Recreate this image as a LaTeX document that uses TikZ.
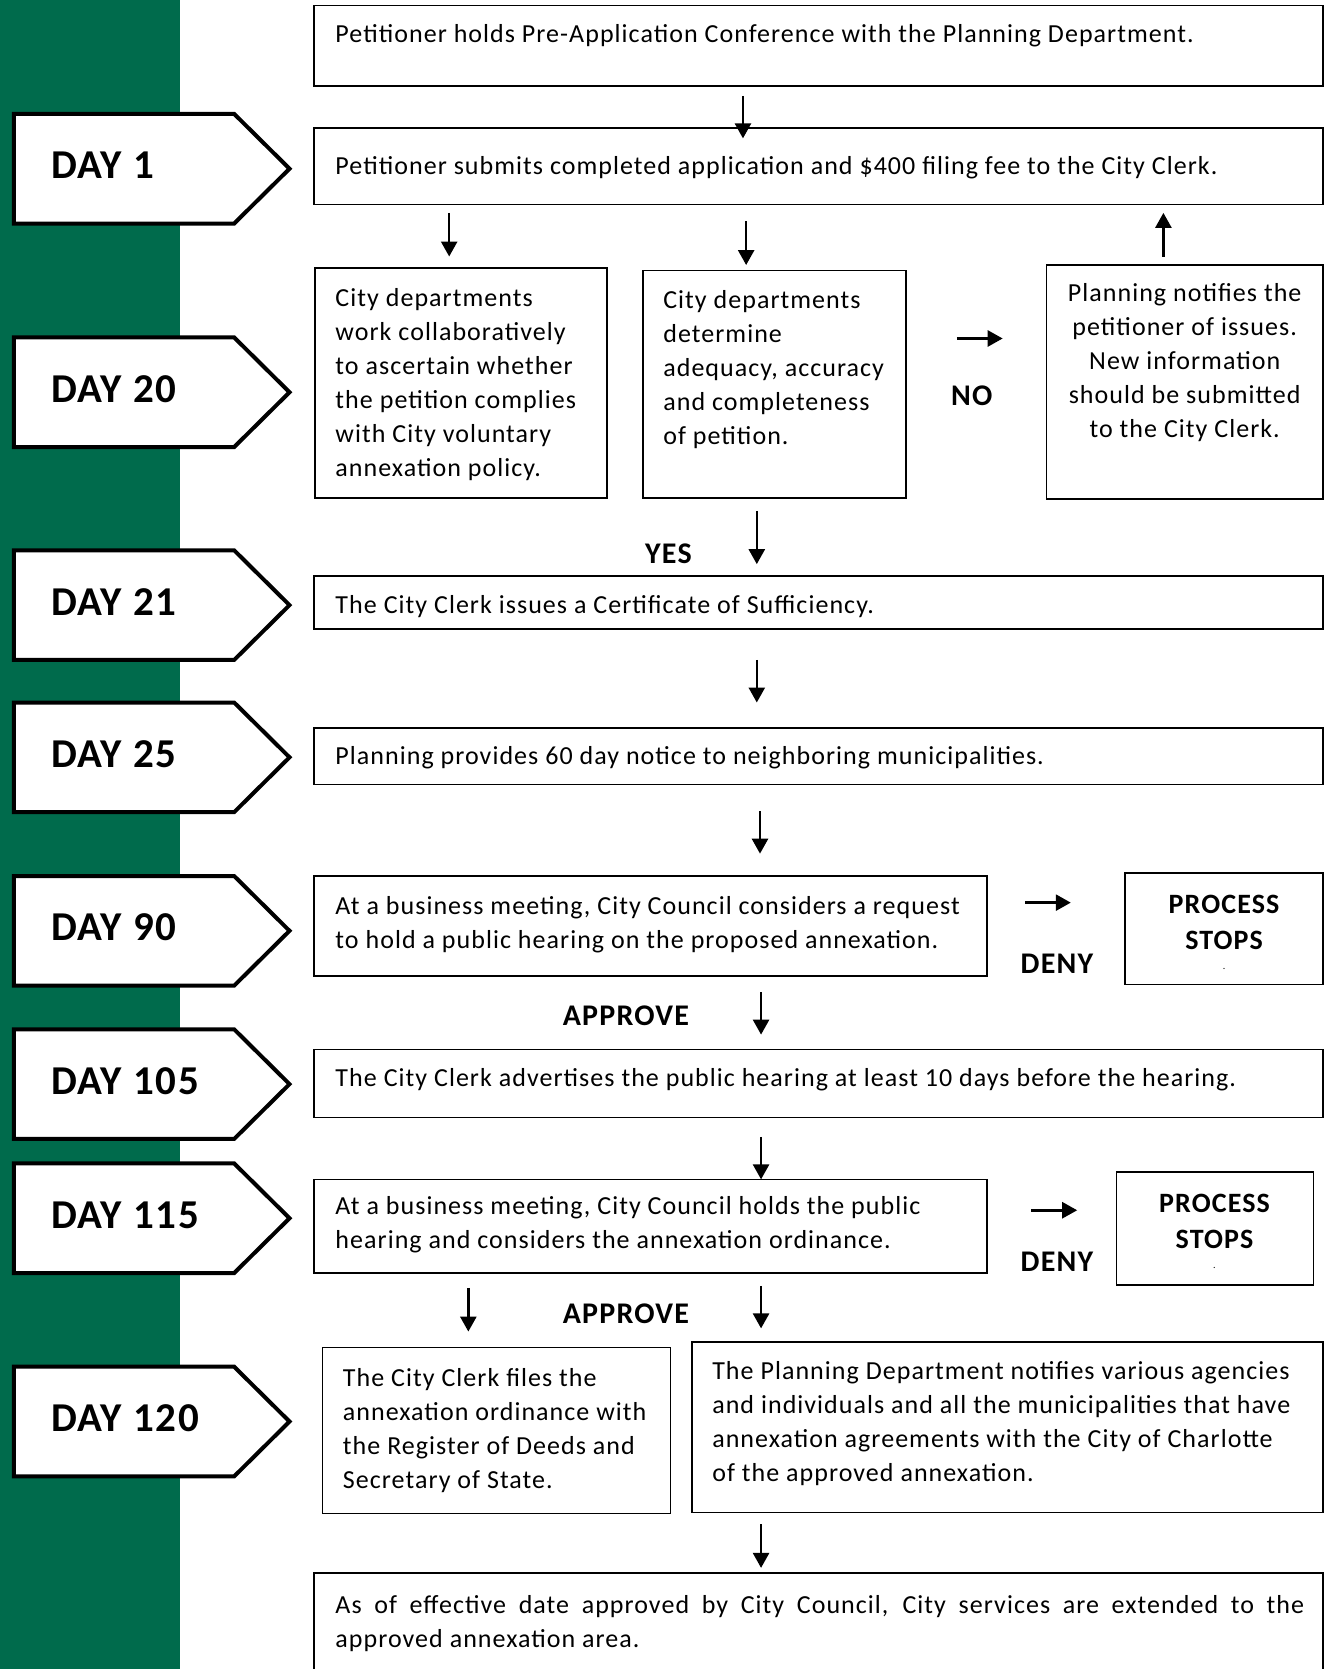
\documentclass[tikz,border=0pt]{standalone}
\usepackage{fontspec}
\setmainfont[LetterSpace=4]{Carlito}
\usetikzlibrary{arrows.meta,fit}
\definecolor{cltgreen}{RGB}{0,107,76}
\newcommand{\daytag}[3]{%
  \draw[daybox] (13,#2) -- (220,#2) -- (272,#2+51.5) -- (220,#2+103) -- (13,#2+103) -- cycle;
  \node[daytxt] (#1) at (48,#2+48.5) {#3};}
\begin{document}
\begin{tikzpicture}[x=1.0642pt,y=-1.0642pt,
  box/.style={draw, line width=1.6pt, inner sep=0pt},
  daybox/.style={draw, fill=white, line width=4pt, line join=miter},
  daytxt/.style={anchor=west, inner sep=0pt, font=\fontsize{41}{48}\selectfont\bfseries},
  txt/.style={inner sep=0pt, anchor=north west, align=left, font=\fontsize{26}{34}\selectfont},
  ctxt/.style={inner sep=0pt, anchor=north, align=center, font=\fontsize{26}{34}\selectfont},
  lbl/.style={inner sep=0pt, font=\fontsize{30}{34}\selectfont\bfseries},
  stoptxt/.style={inner sep=0pt, align=center, font=\fontsize{28}{36}\selectfont\bfseries},
  arr/.style={line width=2.6pt, -{Triangle[length=15pt,width=16pt]}}]
\useasboundingbox (0,0) rectangle (1246,1568);
\fill[cltgreen] (0,0) rectangle (169,1568);

% day tags
\daytag{d1}{107}{DAY 1}
\daytag{d20}{317}{DAY 20}
\daytag{d21}{517}{DAY 21}
\daytag{d25}{660}{DAY 25}
\daytag{d90}{823}{DAY 90}
\daytag{d105}{967}{DAY 105}
\daytag{d115}{1093}{DAY 115}
\daytag{d120}{1284}{DAY 120}

% boxes
\node[box, fit={(295,5) (1243,81)}] (b1) {};
\node[txt] (t1) at (315,23) {Petitioner holds Pre-Application Conference with the Planning Department.};
\node[box, fit={(295,120) (1243,192)}] (b2) {};
\node[txt] (t2) at (315,147) {Petitioner submits completed application and \$400 filing fee to the City Clerk.};
\node[box, fit={(296,252) (570,468)}] (b3) {};
\node[txt] (t3) at (315,271) {City departments\\work collaboratively\\to ascertain whether\\the petition complies\\with City voluntary\\annexation policy.};
\node[box, fit={(604,254) (851,468)}] (b4) {};
\node[txt] (t4) at (623,273) {City departments\\determine\\adequacy, accuracy\\and completeness\\of petition.};
\node[box, fit={(983,249) (1243,469)}] (b5) {};
\node[ctxt] (t5) at (1113,266) {Planning notifies the\\petitioner of issues.\\New information\\should be submitted\\to the City Clerk.};
\node[box, fit={(295,541) (1243,591)}] (b6) {};
\node[txt] (t6) at (315,559) {The City Clerk issues a Certificate of Sufficiency.};
\node[box, fit={(295,684) (1243,737)}] (b7) {};
\node[txt] (t7) at (315,701) {Planning provides 60 day notice to neighboring municipalities.};
\node[box, fit={(295,823) (927,917)}] (b8) {};
\node[txt] (t8) at (315,842) {At a business meeting, City Council considers a request\\to hold a public hearing on the proposed annexation.};
\node[box, fit={(1057,820) (1243,925)}] (s1) {};
\node[stoptxt] (st1) at (1150,876) {PROCESS\\STOPS\\[-16pt]{\fontsize{10}{12}\selectfont\mdseries .}};
\node[box, fit={(295,986) (1243,1050)}] (b10) {};
\node[txt] (t10) at (315,1004) {The City Clerk advertises the public hearing at least 10 days before the hearing.};
\node[box, fit={(295,1108) (927,1196)}] (b11) {};
\node[txt] (t11) at (315,1124) {At a business meeting, City Council holds the public\\hearing and considers the annexation ordinance.};
\node[box, fit={(1049,1101) (1234,1207)}] (s2) {};
\node[stoptxt] (st2) at (1141,1157) {PROCESS\\STOPS\\[-16pt]{\fontsize{10}{12}\selectfont\mdseries .}};
\node[box, fit={(303,1266) (630,1422)}] (b13) {};
\node[txt] (t13) at (322,1285) {The City Clerk files the\\annexation ordinance with\\the Register of Deeds and\\Secretary of State.};
\node[box, fit={(650,1261) (1243,1421)}] (b14) {};
\node[txt] (t14) at (669,1279) {The Planning Department notifies various agencies\\and individuals and all the municipalities that have\\annexation agreements with the City of Charlotte\\of the approved annexation.};
\coordinate (b15bl) at (295,1580);
\coordinate (b15br) at (1243,1580);
\coordinate (b15tr) at (1243,1478);
\draw[line width=1.6pt] (b15bl) |- (b15tr) -- (b15br);
\node[txt, text width=910*1.0642pt, align=justify] (t15) at (315,1499) {As of effective date approved by City Council, City services are extended to the\linebreak approved annexation area.};

% labels
\node[lbl] (no) at (913,372) {NO};
\node[lbl] (yes) at (628,520) {YES};
\node[lbl] (deny1) at (993,905) {DENY};
\node[lbl] (app1) at (588,954) {APPROVE};
\node[lbl] (deny2) at (993,1185) {DENY};
\node[lbl] (app2) at (588,1234) {APPROVE};

% arrows
\coordinate (a1s) at (698,90);   \coordinate (a1e) at (698,130);
\coordinate (a2s) at (422,200);  \coordinate (a2e) at (422,241);
\coordinate (a3s) at (701,208);  \coordinate (a3e) at (701,249);
\coordinate (a4s) at (1093,241); \coordinate (a4e) at (1093,200);
\coordinate (a5s) at (899,318);  \coordinate (a5e) at (942,318);
\coordinate (a6s) at (711,480);  \coordinate (a6e) at (711,530);
\coordinate (a7s) at (711,620);  \coordinate (a7e) at (711,660);
\coordinate (a8s) at (714,762);  \coordinate (a8e) at (714,802);
\coordinate (a9s) at (963,848);  \coordinate (a9e) at (1006,848);
\coordinate (a10s) at (715,932); \coordinate (a10e) at (715,972);
\coordinate (a11s) at (715,1068);\coordinate (a11e) at (715,1108);
\coordinate (a12s) at (969,1137);\coordinate (a12e) at (1012,1137);
\coordinate (a13s) at (440,1210);\coordinate (a13e) at (440,1251);
\coordinate (a14s) at (715,1208);\coordinate (a14e) at (715,1248);
\coordinate (a15s) at (715,1432);\coordinate (a15e) at (715,1473);
\foreach \i in {1,...,15} \draw[arr] (a\i s) -- (a\i e);
\end{tikzpicture}
\end{document}
